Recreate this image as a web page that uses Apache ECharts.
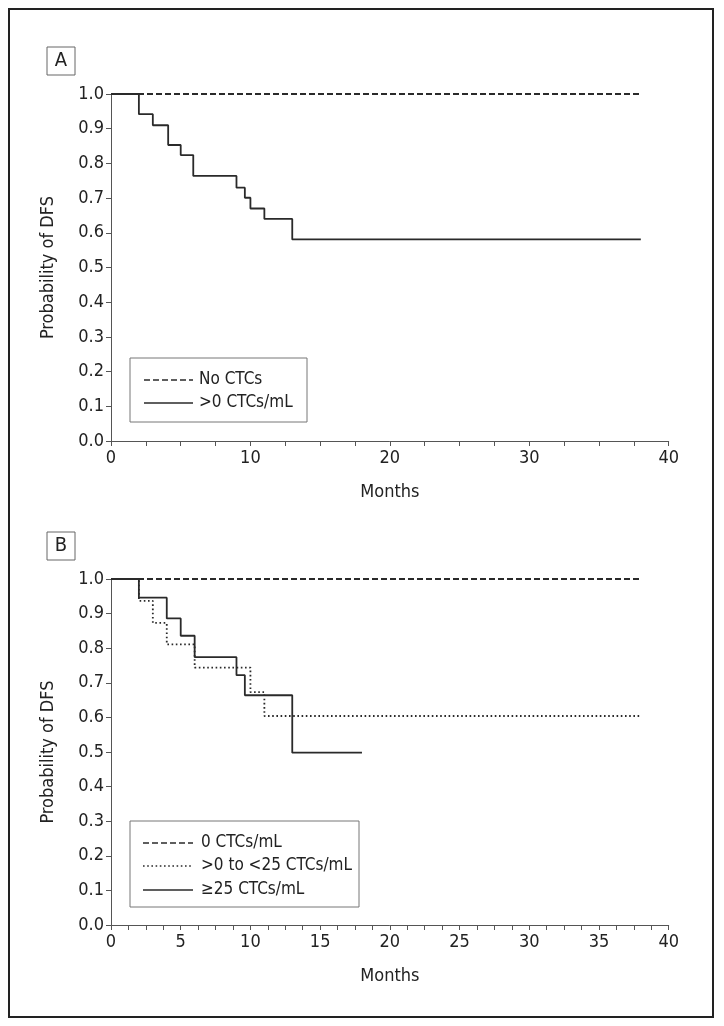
<!DOCTYPE html>
<html><head><meta charset="utf-8">
<script src="https://cdn.jsdelivr.net/npm/echarts@6/dist/echarts.min.js"></script>
<style>html,body{margin:0;padding:0;background:#fff}#c{width:724px;height:1026px}</style>
</head><body><div id="c"></div>
<script>
// Panel A data
const aNoCTC = [[0, 1.0], [38, 1.0]];
const aPosCTC = [[0, 1.0], [2, 0.942], [3, 0.910], [4.1, 0.853], [5, 0.824], [5.9, 0.764], [9, 0.730], [9.6, 0.701], [10, 0.670], [11, 0.640], [13, 0.581], [38, 0.581]];
// Panel B data
const bZero = [[0, 1.0], [38, 1.0]];
const bLow = [[0, 1.0], [2, 0.937], [3, 0.873], [4, 0.811], [6, 0.744], [10, 0.673], [11, 0.604], [38, 0.604]];
const bHigh = [[0, 1.0], [2, 0.946], [4, 0.886], [5, 0.836], [6, 0.774], [9, 0.722], [9.6, 0.664], [13, 0.498], [18, 0.498]];
const namesA = ['No CTCs', '>0 CTCs/mL'];
const namesB = ['0 CTCs/mL', '>0 to <25 CTCs/mL', '\u226525 CTCs/mL'];
const panelLabels = ['A', 'B'];

const FONT = "'Liberation Sans Narrow', 'DejaVu Sans Condensed', 'Arial Narrow', sans-serif";
const TXT = '#222';
const LINE = '#2a2a2a';
const AX = '#555';
const DASH = [6, 3];
const DOT = [1.6, 2.6];

function xAxis(gi, interval, labelEvery) {
  return {
    type: 'value', gridIndex: gi, min: 0, max: 40, interval: interval,
    name: 'Months', nameLocation: 'middle', nameGap: 42,
    nameTextStyle: {fontFamily: FONT, fontSize: 18, color: TXT},
    axisLine: {show: true, lineStyle: {color: AX, width: 1}},
    axisTick: {show: true, length: 5, lineStyle: {color: AX}},
    axisLabel: {fontFamily: FONT, fontSize: 18, color: TXT, margin: 8,
      formatter: v => (Math.abs(v / labelEvery - Math.round(v / labelEvery)) < 1e-6 ? String(Math.round(v)) : '')},
    splitLine: {show: false}
  };
}
function yAxis(gi) {
  return {
    type: 'value', gridIndex: gi, min: 0, max: 1, interval: 0.1,
    name: 'Probability of DFS', nameLocation: 'middle', nameGap: 54,
    nameTextStyle: {fontFamily: FONT, fontSize: 18, color: TXT},
    axisLine: {show: true, lineStyle: {color: AX, width: 1}},
    axisTick: {show: true, length: 5, lineStyle: {color: AX}},
    axisLabel: {fontFamily: FONT, fontSize: 18, color: TXT, margin: 7,
      formatter: v => v.toFixed(1)},
    splitLine: {show: false}
  };
}
function ser(name, data, gi, dash) {
  return {
    name: name, type: 'line', xAxisIndex: gi, yAxisIndex: gi, data: data,
    step: 'end', symbol: 'none', silent: true, animation: false,
    lineStyle: {color: LINE, width: 1.8, type: dash},
    itemStyle: {color: LINE}
  };
}
function legendBox(x, y, w, h, names, dashes, rowYs, lineX0, lineX1, textX) {
  const els = [{type: 'rect', shape: {x: x, y: y, width: w, height: h},
    style: {fill: '#fff', stroke: '#777', lineWidth: 1}, silent: true, z: 10}];
  names.forEach((n, i) => {
    els.push({type: 'line', shape: {x1: lineX0, y1: rowYs[i], x2: lineX1, y2: rowYs[i]},
      style: {stroke: LINE, lineWidth: 1.6, lineDash: dashes[i]}, silent: true, z: 11});
    els.push({type: 'text', x: textX, y: rowYs[i],
      style: {text: n, fontFamily: FONT, fontSize: 17, fill: TXT, align: 'left', verticalAlign: 'middle'}, silent: true, z: 11});
  });
  return els;
}

const chart = echarts.init(document.getElementById('c'), null, {renderer: 'canvas'});
chart.setOption({
  animation: false,
  backgroundColor: '#fff',
  grid: [
    {left: 111, top: 94, width: 557.7, height: 347},
    {left: 111, top: 579, width: 557.7, height: 346}
  ],
  xAxis: [xAxis(0, 2.5, 10), xAxis(1, 1.25, 5)],
  yAxis: [yAxis(0), yAxis(1)],
  graphic: [
    {type: 'rect', shape: {x: 9, y: 9, width: 704, height: 1008}, style: {fill: 'none', stroke: '#222', lineWidth: 2}, silent: true},
    {type: 'rect', shape: {x: 47, y: 47, width: 28, height: 28}, style: {fill: '#fff', stroke: '#666', lineWidth: 1}, silent: true},
    {type: 'text', x: 61, y: 61, style: {text: panelLabels[0], fontFamily: FONT, fontSize: 20, fill: TXT, align: 'center', verticalAlign: 'middle'}, silent: true},
    {type: 'rect', shape: {x: 47, y: 532, width: 28, height: 28}, style: {fill: '#fff', stroke: '#666', lineWidth: 1}, silent: true},
    {type: 'text', x: 61, y: 546, style: {text: panelLabels[1], fontFamily: FONT, fontSize: 20, fill: TXT, align: 'center', verticalAlign: 'middle'}, silent: true}
  ].concat(
    legendBox(130, 358, 177, 64, namesA, [DASH, null], [380, 403], 144, 193, 199),
    legendBox(130, 821, 229, 86, namesB, [DASH, DOT, null], [843, 866, 890], 143, 193, 201)
  ),
  series: [
    ser(namesA[0], aNoCTC, 0, DASH),
    ser(namesA[1], aPosCTC, 0, 'solid'),
    ser(namesB[0], bZero, 1, DASH),
    ser(namesB[1], bLow, 1, DOT),
    ser(namesB[2], bHigh, 1, 'solid')
  ]
});
</script></body></html>
